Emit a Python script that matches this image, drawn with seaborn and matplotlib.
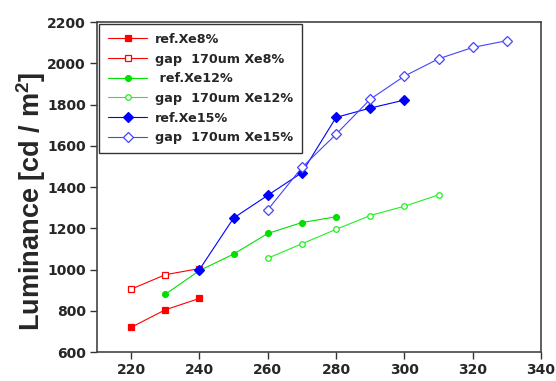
import matplotlib
matplotlib.use("Agg")
import matplotlib.pyplot as plt
import seaborn as sns
import pandas as pd

sns.set_style("white")
plt.rcParams['font.family'] = ['DejaVu Sans']
plt.rcParams['mathtext.fontset'] = 'custom'
plt.rcParams['mathtext.bf'] = 'Liberation Sans:bold'
plt.rcParams['mathtext.rm'] = 'Liberation Sans:bold'

x_ref8 = [220, 230, 240]
y_ref8 = [720, 805, 860]
x_gap8 = [220, 230, 240]
y_gap8 = [905, 975, 1005]
x_ref12 = [230, 240, 250, 260, 270, 280]
y_ref12 = [880, 995, 1075, 1175, 1228, 1256]
x_gap12 = [260, 270, 280, 290, 300, 310]
y_gap12 = [1055, 1125, 1195, 1262, 1307, 1362]
x_ref15 = [240, 250, 260, 270, 280, 290, 300]
y_ref15 = [1000, 1250, 1360, 1470, 1738, 1783, 1822]
x_gap15 = [260, 270, 280, 290, 300, 310, 320, 330]
y_gap15 = [1290, 1495, 1656, 1826, 1938, 2022, 2077, 2110]

labels = ["ref.Xe8%", "gap  170um Xe8%", " ref.Xe12%", "gap  170um Xe12%",
          "ref.Xe15%", "gap  170um Xe15%"]
xticks = [220, 240, 260, 280, 300, 320, 340]
yticks = [600, 800, 1000, 1200, 1400, 1600, 1800, 2000, 2200]

series = [
    (x_ref8, y_ref8, labels[0], "#ff0000", "s", True, 4.6),
    (x_gap8, y_gap8, labels[1], "#ff0000", "s", False, 3.8),
    (x_ref12, y_ref12, labels[2], "#00e000", "o", True, 4.2),
    (x_gap12, y_gap12, labels[3], "#22ee22", "o", False, 4.0),
    (x_ref15, y_ref15, labels[4], "#0000ff", "D", True, 5.2),
    (x_gap15, y_gap15, labels[5], "#4444ff", "D", False, 5.0),
]

fig = plt.figure(figsize=(5.56, 3.81), dpi=100)
ax = fig.add_axes([0.1745, 0.076, 0.7985, 0.866])

for xs, ys, lab, col, mk, filled, ms in series:
    df = pd.DataFrame({"x": xs, "y": ys})
    sns.lineplot(data=df, x="x", y="y", ax=ax, color=col, lw=0.8, marker=mk,
                 markersize=ms, markerfacecolor=col if filled else "white",
                 markeredgecolor=col, markeredgewidth=0.9, label=lab)

ax.set_xlim(210, 340)
ax.set_ylim(600, 2200)
ax.set_xticks(xticks)
ax.set_yticks(yticks)
ax.set_xlabel("")
ax.set_ylabel(r"Luminance [cd / m$^{\mathbf{2}}$]", fontsize=19.5, fontweight="bold",
              family="Liberation Sans")
ax.yaxis.set_label_coords(-0.111, 0.457)
for t in ax.get_xticklabels() + ax.get_yticklabels():
    t.set_fontweight("bold")
    t.set_fontsize(10)
ax.tick_params(axis="both", direction="out", length=5, width=1, color="#333333",
               bottom=True, left=True, top=False, right=False, pad=3)
for s in ax.spines.values():
    s.set_color("#444444")
    s.set_linewidth(1.2)

leg = ax.legend(loc="upper left", frameon=True, fancybox=False, edgecolor="black",
                borderaxespad=0.15, prop={"weight": "bold", "size": 9.2},
                handlelength=3.1, labelspacing=0.52, borderpad=0.7, handletextpad=0.55)
leg.get_frame().set_linewidth(1.0)

fig.savefig("out.png", dpi=100)
